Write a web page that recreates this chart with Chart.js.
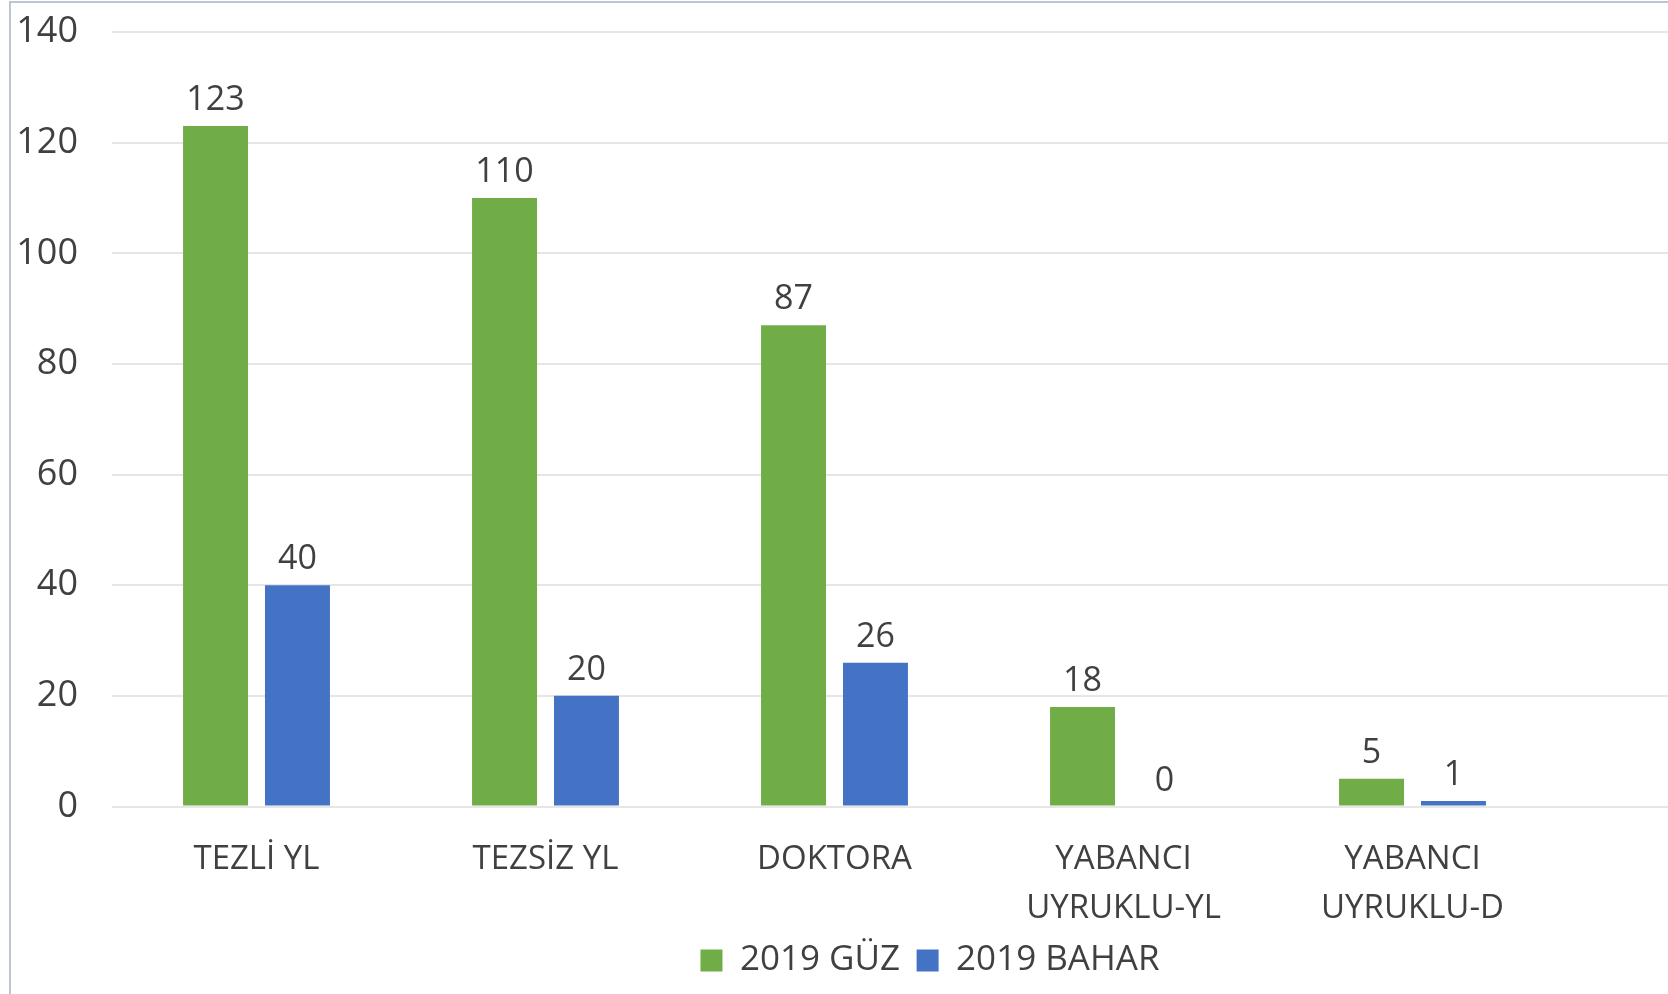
<!DOCTYPE html>
<html>
<head>
<meta charset="utf-8">
<script src="https://cdn.jsdelivr.net/npm/chart.js@4/dist/chart.umd.min.js"></script>
<style>
    html, body { margin: 0; padding: 0; background: #fff; overflow: hidden; }
    #wrap { position: relative; width: 1668px; height: 994px; overflow: hidden; }
    #box { position: absolute; left: 0; top: 0; }
    #frame { position: absolute; left: 9px; top: 1px; width: 1700px; height: 1000px;
             border-left: 2px solid #bcc6d1; border-top: 2px solid #bcc6d1;
             box-sizing: border-box; pointer-events: none; }
</style>
</head>
<body>
<div id="wrap">
    <div id="box"><canvas id="mainChart" width="1880" height="994"></canvas></div>
    <div id="frame"></div>
</div>
<script>
const categories = ['TEZLİ YL', 'TEZSİZ YL', 'DOKTORA', ['YABANCI', 'UYRUKLU-YL'], ['YABANCI', 'UYRUKLU-D']];
const guz2019 = [123, 110, 87, 18, 5];
const bahar2019 = [40, 20, 26, 0, 1];
const yTicks = [0, 20, 40, 60, 80, 100, 120, 140];

const textColor = '#404040';
const fontFamily = '"Open Sans", sans-serif';

// etiket nilai di atas setiap bar
const barLabels = {
    id: 'barLabels',
    afterDatasetsDraw(chart) {
        const ctx = chart.ctx;
        ctx.save();
        ctx.font = '34px ' + fontFamily;
        ctx.fillStyle = textColor;
        ctx.textAlign = 'center';
        ctx.textBaseline = 'alphabetic';
        chart.data.datasets.forEach((ds, i) => {
            chart.getDatasetMeta(i).data.forEach((bar, j) => {
                const v = ds.data[j];
                if (v == null) return;
                ctx.fillText(String(v), bar.x, bar.y - 16);
            });
        });
        ctx.restore();
    }
};

document.addEventListener("DOMContentLoaded", () => {
    const ctx = document.getElementById('mainChart');
    if (!ctx) return;

    new Chart(ctx, {
        type: 'bar',
        data: {
            // gambar asli terpotong di kanan, sisakan satu slot kosong
            labels: [...categories, ''],
            datasets: [
                {
                    label: '2019 GÜZ',
                    data: guz2019,
                    backgroundColor: '#70ad47',
                    categoryPercentage: 0.567,
                    barPercentage: 0.793,
                },
                {
                    label: '2019 BAHAR',
                    data: bahar2019,
                    backgroundColor: '#4472c4',
                    categoryPercentage: 0.567,
                    barPercentage: 0.793,
                }
            ]
        },
        options: {
            responsive: false,
            animation: false,
            layout: {
                padding: { top: 32, right: 34, left: 14, bottom: 6 }
            },
            plugins: {
                tooltip: { enabled: false },
                legend: {
                    position: 'bottom',
                    labels: {
                        color: textColor,
                        font: { family: fontFamily, size: 35 },
                        boxWidth: 22,
                        boxHeight: 22,
                        padding: 16.5
                    }
                }
            },
            scales: {
                x: {
                    grid: { display: false },
                    border: { display: false },
                    ticks: {
                        color: textColor,
                        font: { family: fontFamily, size: 33, lineHeight: 1.5 },
                        padding: 20,
                        maxRotation: 0,
                        autoSkip: false
                    },
                    afterFit: (scale) => { scale.height = 120; }
                },
                y: {
                    min: 0,
                    max: 140,
                    afterBuildTicks: (scale) => { scale.ticks = yTicks.map(v => ({ value: v })); },
                    border: { display: false },
                    grid: { color: '#e6e6e6', lineWidth: 2, drawTicks: false },
                    ticks: {
                        color: textColor,
                        font: { family: fontFamily, size: 36 },
                        padding: 34
                    },
                    afterFit: (scale) => {
                        scale.width = 98;
                        scale.paddingTop = 0;
                        scale.paddingBottom = 0;
                    }
                }
            }
        },
        plugins: [barLabels]
    });
});
</script>
</body>
</html>
